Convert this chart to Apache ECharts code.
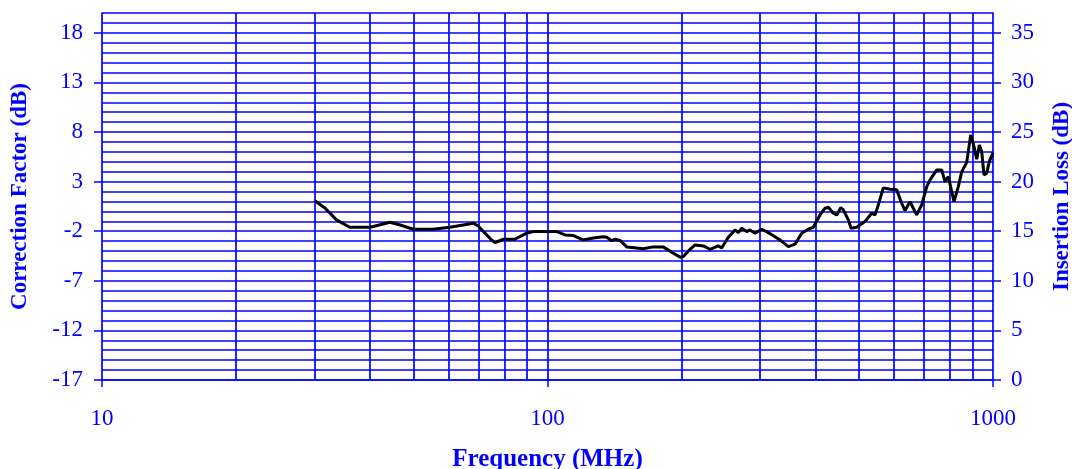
<!DOCTYPE html>
<html>
<head>
<meta charset="utf-8">
<script src="https://cdn.jsdelivr.net/npm/echarts@6/dist/echarts.min.js"></script>
<style>
html,body{margin:0;padding:0;background:#fff;}
#chart{width:1072px;height:469px;}
</style>
</head>
<body>
<div id="chart"></div>
<script>
const freqMHz = [30, 31.7, 33.6, 36, 40, 44.3, 46.7, 50, 55.4, 60.4,
  68.2, 69.9, 74.9, 76.2, 79.6, 84.5, 89.8, 92.9, 104.9, 109.5,
  114.3, 120.3, 126.7, 133.4, 135.8, 139.4, 141.8, 145.5, 150.6, 158.6,
  164.1, 172.8, 181.9, 190, 198.9, 201.8, 208.9, 214.4, 223.8, 231.6,
  241.8, 246, 254.6, 263.6, 268.1, 272.9, 280, 284.8, 292.3, 302.5,
  310.5, 324.1, 332.6, 347.2, 359.4, 372.1, 384.9, 395, 409, 419.7,
  426.9, 438.1, 445.9, 455.2, 461.4, 473.4, 480.1, 494.4, 516, 534.2,
  543.4, 552.7, 567.2, 587.2, 607.9, 623.8, 634.6, 651.2, 662.4, 674.2,
  691.8, 710, 722.2, 747.6, 767.1, 780.4, 793.8, 807.8, 817.6, 835.9,
  850.7, 873, 891.2, 906.7, 919.3, 931.7, 943.3, 954.5, 967.8, 981, 1000];
const correctionFactor = [1.1, 0.32, -0.86, -1.6, -1.6, -1.09, -1.37, -1.8, -1.8, -1.6,
  -1.19, -1.47, -2.88, -3.15, -2.81, -2.81, -2.2, -2.04, -2.04, -2.37,
  -2.44, -2.88, -2.68, -2.55, -2.61, -2.95, -2.81, -2.93, -3.58, -3.69,
  -3.76, -3.58, -3.58, -4.12, -4.64, -4.56, -3.82, -3.38, -3.48, -3.82,
  -3.48, -3.69, -2.61, -1.87, -2.14, -1.7, -2.04, -1.87, -2.2, -1.8,
  -2.04, -2.55, -2.88, -3.55, -3.31, -2.2, -1.8, -1.6, -0.36, 0.32,
  0.42, -0.19, -0.36, 0.38, 0.15, -0.86, -1.7, -1.6, -1.03, -0.19,
  -0.36, 0.65, 2.37, 2.24, 2.17, 0.82, 0.08, 0.98, 0.32, -0.36,
  0.65, 2.5, 3.17, 4.18, 4.18, 3.0, 3.51, 1.99, 0.98, 2.5,
  4.01, 4.92, 7.71, 6.53, 5.26, 6.7, 6.03, 3.68, 3.85, 5.02, 5.93];
const leftTicks = [-17, -12, -7, -2, 3, 8, 13, 18];
const rightTicks = [0, 5, 10, 15, 20, 25, 30, 35];
const xTicks = [10, 100, 1000];
const verticalGridFreqs = [20, 30, 40, 50, 60, 70, 80, 90, 100, 200, 300, 400, 500, 600, 700, 800, 900];

const BLUE = '#0000ff';
const FONT = 'Liberation Serif';
const GRIDW = 1.7;

const chart = echarts.init(document.getElementById('chart'), null, {renderer: 'canvas'});
chart.setOption({
  backgroundColor: '#fff',
  animation: false,
  grid: {left: 102, right: 79, top: 13, bottom: 89, containLabel: false, outerBoundsMode: 'none'},
  xAxis: {
    type: 'log', logBase: 10, min: 10, max: 1000,
    name: 'Frequency (MHz)', nameLocation: 'middle', nameGap: 67,
    nameTextStyle: {color: BLUE, fontFamily: FONT, fontWeight: 'bold', fontSize: 25},
    axisLine: {show: true, onZero: false, lineStyle: {color: BLUE, width: GRIDW}},
    axisTick: {show: true, length: 7, customValues: xTicks, lineStyle: {color: BLUE, width: 1.5}},
    axisLabel: {customValues: xTicks, color: BLUE, fontFamily: FONT, fontSize: 23, margin: 27,
      formatter: v => String(v)},
    splitLine: {show: false}
  },
  yAxis: [{
    type: 'value', position: 'left', min: -17, max: 20, interval: 1,
    name: 'Correction Factor (dB)', nameLocation: 'middle', nameGap: 70, nameRotate: 90,
    nameTextStyle: {color: BLUE, fontFamily: FONT, fontWeight: 'bold', fontSize: 23},
    axisLine: {show: true, lineStyle: {color: BLUE, width: GRIDW}},
    axisTick: {show: true, length: 8, customValues: leftTicks, lineStyle: {color: BLUE, width: 1.5}},
    axisLabel: {customValues: leftTicks, color: BLUE, fontFamily: FONT, fontSize: 23, margin: 19},
    splitLine: {show: false}
  }, {
    type: 'value', position: 'right', min: 0, max: 37, interval: 1,
    name: 'Insertion Loss (dB)', nameLocation: 'middle', nameGap: 58, nameRotate: 90,
    nameTextStyle: {color: BLUE, fontFamily: FONT, fontWeight: 'bold', fontSize: 23},
    axisLine: {show: true, lineStyle: {color: BLUE, width: GRIDW}},
    axisTick: {show: true, length: 8, customValues: rightTicks, lineStyle: {color: BLUE, width: 1.5}},
    axisLabel: {customValues: rightTicks, color: BLUE, fontFamily: FONT, fontSize: 23, margin: 18},
    splitLine: {show: false}
  }, {
    type: 'value', position: 'left', min: -17, max: 20, interval: 1,
    axisLine: {show: false}, axisTick: {show: false}, axisLabel: {show: false},
    splitLine: {show: true, lineStyle: {color: BLUE, width: GRIDW}}
  }],
  series: [{
    type: 'line', xAxisIndex: 0, yAxisIndex: 0, data: [], silent: true, z: 1,
    markLine: {
      silent: true, symbol: ['none', 'none'], animation: false,
      label: {show: false},
      lineStyle: {color: BLUE, type: 'solid', width: GRIDW},
      emphasis: {disabled: true},
      data: verticalGridFreqs.map(f => ({xAxis: f}))
    }
  }, {
    type: 'line', xAxisIndex: 0, yAxisIndex: 0, z: 10,
    showSymbol: false, symbol: 'none', smooth: false,
    lineStyle: {color: '#000', width: 3},
    data: freqMHz.map((f, i) => [f, correctionFactor[i]])
  }]
});
</script>
</body>
</html>
